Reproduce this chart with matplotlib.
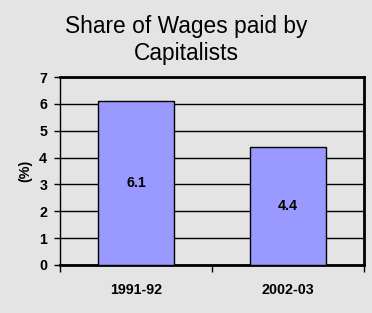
import matplotlib
matplotlib.use("Agg")
import matplotlib.pyplot as plt

plt.rcParams['font.family'] = ['Liberation Sans', 'DejaVu Sans']

# data
periods = ['1991-92', '2002-03']
share = [6.1, 4.4]
yticks = [0, 1, 2, 3, 4, 5, 6, 7]

bg = '#e4e4e4'
fig = plt.figure(figsize=(3.72, 3.13), dpi=100, facecolor=bg)
ax = fig.add_axes([60/372, 48/313, 304/372, 188/313], facecolor=bg)

x = list(range(len(periods)))
ax.bar(x, share, width=0.5, color='#9999ff', edgecolor='black', linewidth=1, zorder=3)

# labels in the middle of each bar
for xi, v in zip(x, share):
    ax.text(xi, v / 2, str(v), ha='center', va='center', fontsize=10.3,
            fontweight='bold', zorder=4)

ax.set_xlim(-0.5, len(periods) - 0.5)
ax.set_ylim(0, 7)
ax.set_yticks(yticks)
ax.set_yticklabels([str(t) for t in yticks], fontsize=10.3, fontweight='bold')
ax.yaxis.grid(True, color='black', linewidth=1, zorder=0)
ax.set_axisbelow(True)

# category ticks sit between the bars, labels under the bars
ax.set_xticks([-0.5, 0.5, 1.5])
ax.set_xticklabels([])
ax.set_xticks(x, minor=True)
ax.set_xticklabels(periods, minor=True, fontsize=10.3, fontweight='bold')
ax.tick_params(axis='x', which='minor', length=0, pad=13)
ax.tick_params(axis='x', which='major', length=5, width=1, direction='out')
ax.tick_params(axis='y', length=4.3, width=1, direction='out', pad=5)

for side in ['top', 'right', 'bottom']:
    ax.spines[side].set_linewidth(2)
ax.spines['left'].set_linewidth(1)

ax.set_ylabel('(%)', fontsize=10.3, fontweight='bold', va='center')
ax.yaxis.set_label_coords(-35/304, 0.5)

fig.text(0.5, 1 - 33/313, 'Share of Wages paid by', ha='center', va='baseline',
         fontsize=16.4)
fig.text(0.5, 1 - 60/313, 'Capitalists', ha='center', va='baseline',
         fontsize=16.4)

fig.savefig('out.png', dpi=100, facecolor=bg)
